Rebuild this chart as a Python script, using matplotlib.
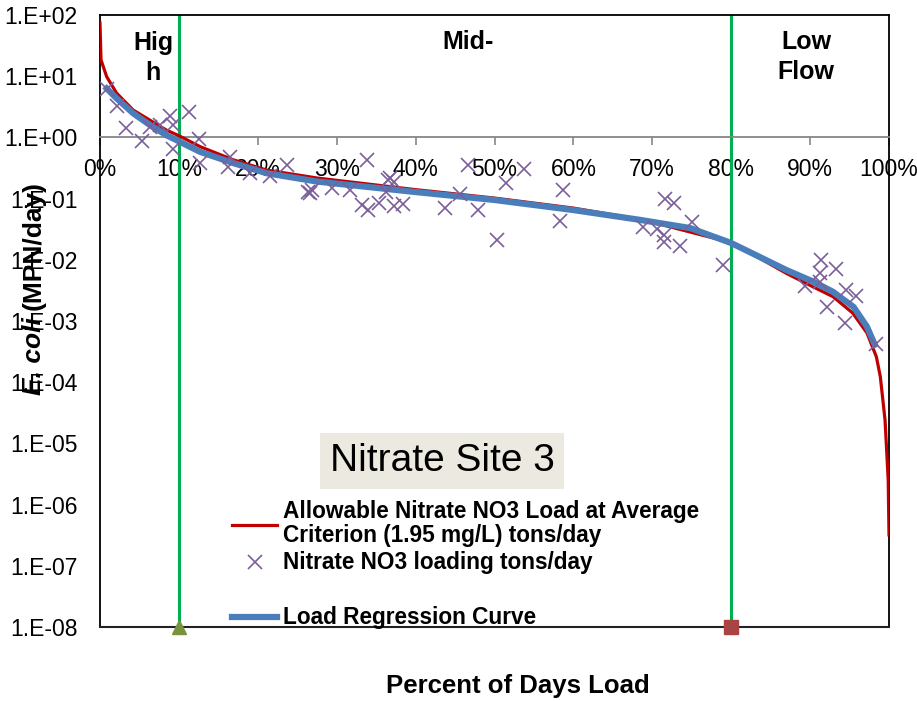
import numpy as np
import matplotlib
matplotlib.use("Agg")
import matplotlib.pyplot as plt
from matplotlib.lines import Line2D

plt.rcParams['font.family'] = ['Liberation Sans', 'DejaVu Sans']

# ---------------------------- data ----------------------------
# allowable load curve (percent of days, tons/day)
allow_pct = [0.0, 0.13, 0.85, 2.1, 4.2, 6.3, 8.4, 10.1, 12.7, 16.9, 21.1, 27.5,
             40.0, 50.0, 60.0, 68.8, 80.2, 87.0, 90.4, 92.9, 95.4, 97.2, 98.4,
             98.9, 99.5, 99.9, 100.0]
allow_load = [74, 18.4, 9.8, 5.3, 2.8, 1.92, 1.32, 1.05, 0.705, 0.43, 0.293, 0.217,
              0.14, 0.102, 0.070, 0.045, 0.0188, 0.006, 0.0036, 0.0025, 0.00135,
              0.00064, 0.00026, 0.000123, 2.4e-5, 2.5e-6, 3.2e-7]

# regression curve
reg_pct = [0.85, 2.1, 4.2, 6.3, 8.4, 10.1, 12.7, 16.9, 21.1, 27.5, 40.0, 50.0,
           60.0, 68.4, 74.8, 80.0, 87.0, 90.4, 92.9, 95.5, 97.2, 98.2]
reg_load = [6.3, 4.35, 2.48, 1.6, 1.09, 0.85, 0.58, 0.38, 0.26, 0.19, 0.128, 0.095,
            0.065, 0.045, 0.033, 0.0188, 0.0068, 0.0044, 0.003, 0.0017, 0.00081, 0.00041]

# observed loads
obs_pct = [0.9, 2.1, 3.3, 5.3, 6.3, 7.6, 8.9, 9.3, 11.3, 12.5, 9.2, 12.7, 16.5, 16.2,
           19.0, 21.5, 23.7, 26.4, 26.6, 26.9, 29.4, 31.7, 33.8, 33.2, 34.0, 35.3,
           36.3, 36.5, 36.8, 37.2, 37.2, 38.4, 43.7, 45.6, 46.6, 47.9, 50.3, 51.5,
           53.8, 58.7, 58.3, 68.8, 70.6, 71.6, 72.8, 71.5, 71.5, 73.5, 75.0, 79.0,
           89.4, 91.2, 91.2, 91.4, 93.3, 92.1, 94.6, 94.4, 95.8, 98.4]
obs_load = [6.1, 3.2, 1.41, 0.87, 1.5, 1.6, 2.2, 1.6, 2.57, 0.94, 0.64, 0.38, 0.48, 0.33,
            0.26, 0.23, 0.35, 0.13, 0.122, 0.138, 0.147, 0.136, 0.43, 0.0785, 0.065, 0.084,
            0.13, 0.20, 0.22, 0.19, 0.077, 0.083, 0.0695, 0.121, 0.354, 0.065, 0.0211, 0.178,
            0.31, 0.138, 0.043, 0.0348, 0.0315, 0.0975, 0.0838, 0.0254, 0.0198, 0.017, 0.042, 0.0082,
            0.00373, 0.006, 0.0044, 0.0099, 0.007, 0.0017, 0.0032, 0.00094, 0.0026, 0.00042]

zone_edges = [10, 80]
ytick_vals = [1e2, 1e1, 1e0, 1e-1, 1e-2, 1e-3, 1e-4, 1e-5, 1e-6, 1e-7, 1e-8]
ytick_labels = ['1.E+02', '1.E+01', '1.E+00', '1.E-01', '1.E-02', '1.E-03',
                '1.E-04', '1.E-05', '1.E-06', '1.E-07', '1.E-08']
xtick_vals = list(range(0, 101, 10))

# ---------------------------- figure ---------------------------------------------
W, H = 917, 701
fig = plt.figure(figsize=(W / 100, H / 100), dpi=100)
ax = fig.add_axes([100 / W, 1 - 627 / H, 789 / W, 612 / H])

ax.set_yscale('log')
ax.set_xlim(0, 100)
ax.set_ylim(1e-8, 1e2)

# zone dividers
for xv in zone_edges:
    ax.axvline(xv, color='#00B050', lw=2.2, zorder=2)

ax.plot(allow_pct, allow_load, color='#C00000', lw=2.3, zorder=4)
ax.plot(reg_pct, reg_load, color='#4A7EBB', lw=4.5, zorder=5)
ax.plot(obs_pct, obs_load, ls='none', marker='x', ms=10, mew=1.2,
        color='#7A5F9A', zorder=6)

ax.plot([zone_edges[0]], [1e-8], marker='^', ms=10, color='#77933C',
        clip_on=False, zorder=7)
ax.plot([zone_edges[1]], [1e-8], marker='s', ms=10, color='#A94442',
        clip_on=False, zorder=7)

# y axis
ax.yaxis.set_major_locator(matplotlib.ticker.FixedLocator(ytick_vals))
ax.yaxis.set_minor_locator(matplotlib.ticker.NullLocator())
ax.set_yticklabels(ytick_labels)
ax.tick_params(axis='y', length=0, pad=16, labelsize=16.5)

# x axis crosses at 1.0
ax.spines['bottom'].set_position(('data', 1))
ax.spines['bottom'].set_color('#868686')
ax.spines['bottom'].set_linewidth(1.3)
ax.set_xticks(xtick_vals)
ax.set_xticklabels(['%d%%' % v for v in xtick_vals])
ax.tick_params(axis='x', direction='out', length=6, width=1.2, color='#868686',
               pad=9, labelsize=16.5)
for s in ['left', 'top', 'right']:
    ax.spines[s].set_color('black')
    ax.spines[s].set_linewidth(1.3)
ax.plot([0, 1], [0, 0], transform=ax.transAxes, color='#222222', lw=1.5,
        clip_on=False, zorder=3)

# zone labels
zone_font = dict(fontsize=18, fontweight='bold', ha='center', va='center',
                 linespacing=1.3)
fig.text(153 / W, 1 - 58 / H, 'Hig\nh', **zone_font)
fig.text(468 / W, 1 - 42 / H, 'Mid-', **zone_font)
fig.text(806 / W, 1 - 57 / H, 'Low\nFlow', **zone_font)

# site title box
fig.text(442 / W, 1 - 461 / H, 'Nitrate Site 3', fontsize=28, ha='center',
         va='center',
         bbox=dict(boxstyle='square,pad=0.25', fc='#ECEAE0', ec='none'))

# legend
handles = [Line2D([], [], color='#C00000', lw=2.3),
           Line2D([], [], ls='none', marker='x', ms=10, mew=1.2, color='#7A5F9A'),
           Line2D([], [], color='none'),
           Line2D([], [], color='#4A7EBB', lw=4.5)]
labels = ['Allowable Nitrate NO3 Load at Average\nCriterion (1.95 mg/L) tons/day',
          'Nitrate NO3 loading tons/day', ' ', 'Load Regression Curve']
leg = ax.legend(handles, labels, loc='upper left',
                bbox_to_anchor=((232 - 100) / 789, (627 - 500) / 612),
                frameon=False, borderpad=0, borderaxespad=0, handlelength=2.0,
                handletextpad=0.25, labelspacing=0.2,
                prop=dict(weight='bold', size=16.3))
for t in leg.get_texts():
    t.set_linespacing(1.05)

# axis titles
fig.text(518 / W, 1 - 686 / H, 'Percent of Days Load', fontsize=18.5,
         fontweight='bold', ha='center', va='center')

fig.canvas.draw()
renderer = fig.canvas.get_renderer()
t1 = fig.text(34 / W, 1 - 395 / H, 'E. coli ', rotation=90, fontsize=19,
              fontweight='bold', fontstyle='italic', ha='center', va='bottom')
bb = t1.get_window_extent(renderer)
fig.text(34 / W, bb.y1 / H, '(MPN/day)', rotation=90, fontsize=19,
         fontweight='bold', ha='center', va='bottom')

fig.savefig('out.png', dpi=100)
